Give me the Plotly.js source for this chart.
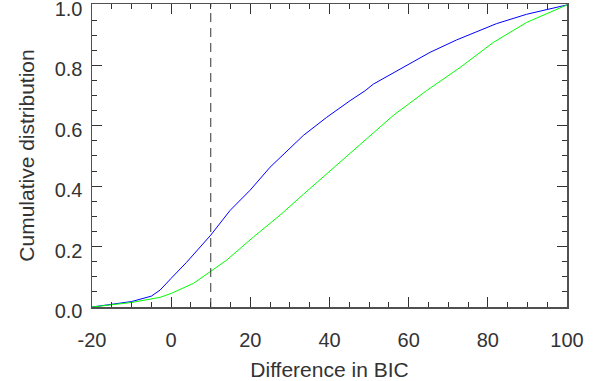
<!DOCTYPE html>
<html>
<head>
<meta charset="utf-8">
<script src="https://cdn.plot.ly/plotly-3.0.1.min.js"></script>
<style>html,body{margin:0;padding:0;background:#fff;}#chart{width:597px;height:381px;}</style>
</head>
<body>
<div id="chart"></div>
<script>
// Blue curve
const blueX = [-20, -15.5, -10, -5, -2.8, 0, 3.9, 10, 14.9, 19.9, 25, 33.4, 39.3, 45.2, 49, 51.1, 57.8, 65.4, 72.1, 82.2, 89.8, 98.2, 100];
const blueY = [0, 0.007, 0.018, 0.036, 0.056, 0.095, 0.148, 0.238, 0.32, 0.386, 0.463, 0.568, 0.628, 0.683, 0.716, 0.738, 0.788, 0.843, 0.884, 0.938, 0.969, 0.995, 1.0];
// Green curve
const greenX = [-20, -10, -2.8, 0, 5.6, 10, 14, 20.8, 27.5, 33.4, 38.4, 44.3, 47.7, 50.2, 56.1, 64.5, 73, 81.4, 89.8, 100];
const greenY = [0, 0.015, 0.032, 0.045, 0.078, 0.119, 0.155, 0.232, 0.304, 0.373, 0.431, 0.5, 0.538, 0.568, 0.634, 0.716, 0.793, 0.876, 0.942, 1.0];
// Vertical dashed threshold
const threshold = 10;
const xRange = [-20, 100];
const yRange = [0, 1.003];
const xTickVals = [-20, 0, 20, 40, 60, 80, 100];
const xTickText = ['-20', '0', '20', '40', '60', '80', '100'];
const yTickVals = [0, 0.2, 0.4, 0.6, 0.8, 1.0];
const yTickText = ['0.0', '0.2', '0.4', '0.6', '0.8', '1.0'];
const xTitle = 'Difference in BIC';
const yTitle = 'Cumulative distribution';

const axisCol = '#505050';
const tickCol = '#333';
const textCol = '#333';
const fontFam = 'Liberation Sans, Arial, Helvetica, sans-serif';

const traces = [
  {x: blueX, y: blueY, mode: 'lines', line: {color: '#0000ff', width: 1}, hoverinfo: 'skip'},
  {x: greenX, y: greenY, mode: 'lines', line: {color: '#00ff00', width: 1}, hoverinfo: 'skip'}
];

function baseAxis(range, minor) {
  return {
    range: range, autorange: false,
    ticks: 'inside', ticklen: 10, tickwidth: 1, tickcolor: tickCol,
    showline: true, linecolor: axisCol, linewidth: 1.5, mirror: 'ticks',
    showgrid: false, zeroline: false,
    ticklabeloverflow: 'allow',
    minor: {dtick: minor, tick0: 0, ticks: 'inside', ticklen: 5, tickcolor: tickCol, tickwidth: 1, showgrid: false}
  };
}

const xaxis = Object.assign(baseAxis(xRange, 5), {
  tickmode: 'array', tickvals: xTickVals, ticktext: xTickText,
  tickfont: {size: 20, color: textCol},
  ticklabelstandoff: 14,
  title: {text: xTitle, font: {size: 21, color: textCol}, standoff: 16}
});
const yaxis = Object.assign(baseAxis(yRange, 0.05), {
  tickmode: 'array', tickvals: yTickVals, ticktext: yTickText,
  tickfont: {size: 20, color: textCol},
  ticklabelstandoff: 4,
  ticklabelshift: 4,
  title: {text: yTitle, font: {size: 21, color: textCol}, standoff: 14}
});

const layout = {
  width: 597, height: 381,
  margin: {l: 92, r: 30, t: 4, b: 74},
  paper_bgcolor: '#fff', plot_bgcolor: '#fff',
  showlegend: false,
  font: {family: fontFam, size: 20, color: textCol},
  xaxis: xaxis, yaxis: yaxis,
  shapes: [{
    type: 'line', xref: 'x', yref: 'paper', x0: threshold, x1: threshold, y0: 0, y1: 1,
    line: {color: '#333', width: 1, dash: '9px,6px'}
  }]
};

Plotly.newPlot('chart', traces, layout, {staticPlot: true, displayModeBar: false});
</script>
</body>
</html>
